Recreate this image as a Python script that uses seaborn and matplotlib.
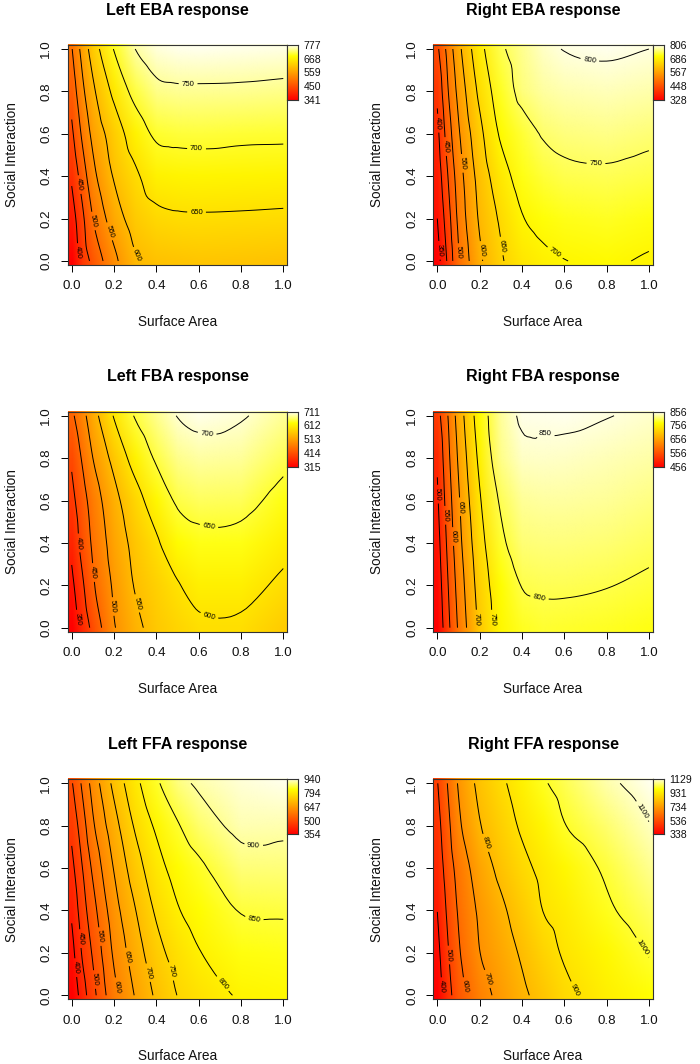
import numpy as np
import matplotlib
matplotlib.use("Agg")
import matplotlib.pyplot as plt
import matplotlib.tri as mtri
from matplotlib.image import NonUniformImage
from matplotlib.colors import LinearSegmentedColormap, Normalize
import seaborn as sns

# ---------------- data ----------------
surface_area = [0.0, 0.05, 0.1, 0.2, 0.3, 0.4, 0.5, 0.6, 0.8, 1.0]
social_interaction = [0.0, 0.2, 0.4, 0.6, 0.8, 1.0]

left_eba = [
    [341, 419, 462, 537, 595, 607, 610, 612, 611, 609],
    [375, 439, 500, 574, 620, 638, 644, 645, 644, 642],
    [408, 473, 534, 604, 642, 673, 677, 678, 677, 675],
    [440, 508, 562, 623, 674, 707, 711, 712, 709, 708],
    [469, 538, 590, 661, 714, 740, 744, 744, 743, 740],
    [497, 566, 622, 702, 750, 770, 776, 777, 775, 773],
]
right_eba = [
    [328, 409, 494, 590, 644, 675, 690, 699, 705, 695],
    [350, 429, 510, 606, 657, 697, 713, 720, 724, 717],
    [369, 450, 524, 618, 678, 718, 733, 741, 744, 738],
    [387, 474, 543, 636, 706, 732, 753, 761, 764, 758],
    [409, 497, 563, 661, 724, 760, 775, 781, 785, 779],
    [440, 516, 585, 683, 742, 767, 790, 801, 806, 800],
]
left_fba = [
    [315, 368, 413, 496, 538, 565, 580, 592, 592, 569],
    [338, 392, 443, 507, 553, 575, 597, 614, 614, 591],
    [362, 416, 457, 520, 563, 594, 629, 639, 638, 614],
    [385, 430, 471, 535, 582, 623, 655, 663, 661, 637],
    [408, 455, 500, 564, 618, 655, 678, 686, 683, 660],
    [440, 483, 529, 603, 653, 679, 701, 709, 703, 682],
]
right_fba = [
    [456, 536, 606, 709, 768, 787, 792, 791, 788, 782],
    [468, 548, 618, 719, 775, 801, 804, 804, 801, 795],
    [480, 561, 632, 731, 791, 815, 817, 817, 814, 807],
    [493, 574, 643, 745, 805, 827, 830, 830, 827, 820],
    [506, 587, 656, 760, 822, 842, 843, 842, 838, 832],
    [530, 600, 670, 773, 828, 854, 855, 856, 851, 845],
]
left_ffa = [
    [354, 425, 483, 585, 653, 708, 751, 770, 805, 812],
    [381, 455, 506, 608, 674, 732, 769, 797, 829, 833],
    [408, 476, 531, 628, 698, 757, 796, 820, 852, 855],
    [435, 499, 559, 653, 726, 781, 818, 841, 882, 882],
    [464, 527, 592, 680, 756, 808, 846, 875, 911, 910],
    [495, 558, 618, 713, 785, 842, 884, 907, 928, 938],
]
right_ffa = [
    [338, 461, 556, 659, 725, 782, 832, 879, 935, 972],
    [370, 491, 587, 698, 755, 811, 865, 908, 956, 1003],
    [401, 519, 609, 715, 782, 843, 901, 927, 989, 1034],
    [433, 548, 633, 747, 823, 877, 920, 953, 1011, 1065],
    [464, 576, 679, 794, 856, 911, 950, 997, 1045, 1097],
    [495, 606, 708, 822, 884, 939, 991, 1025, 1085, 1129],
]

panel_titles = ["Left EBA response", "Right EBA response",
                "Left FBA response", "Right FBA response",
                "Left FFA response", "Right FFA response"]
panel_values = [left_eba, right_eba, left_fba, right_fba, left_ffa, right_ffa]

key_labels = [
    [341, 450, 559, 668, 777],
    [328, 448, 567, 686, 806],
    [315, 414, 513, 612, 711],
    [456, 556, 656, 756, 856],
    [354, 500, 647, 794, 940],
    [338, 536, 734, 931, 1129],
]
contour_levels = [
    [400, 450, 500, 550, 600, 650, 700, 750],
    [350, 400, 450, 500, 550, 600, 650, 700, 750, 800],
    [350, 400, 450, 500, 550, 600, 650, 700],
    [500, 550, 600, 650, 700, 750, 800, 850],
    [400, 450, 500, 550, 600, 650, 700, 750, 800, 850, 900],
    [400, 500, 600, 700, 800, 900, 1000, 1100],
]
axis_ticks = [0.0, 0.2, 0.4, 0.6, 0.8, 1.0]
axis_tick_labels = ["0.0", "0.2", "0.4", "0.6", "0.8", "1.0"]

# where the contour labels sit (layout, as in the reference)
label_spots = [
    [(0.035, 0.04), (0.035, 0.36), (0.11, 0.19), (0.18, 0.14), (0.32, 0.03),
     (0.59, 0.225), (0.59, 0.53), (0.55, 0.835)],
    [(0.005, 0.05), (0.003, 0.65), (0.04, 0.54), (0.11, 0.04), (0.11, 0.46),
     (0.21, 0.05), (0.30, 0.07), (0.55, 0.03), (0.75, 0.46), (0.72, 0.944)],
    [(0.024, 0.04), (0.035, 0.40), (0.10, 0.26), (0.197, 0.10), (0.29, 0.11),
     (0.65, 0.055), (0.65, 0.485), (0.64, 0.915)],
    [(0.003, 0.63), (0.032, 0.53), (0.071, 0.43), (0.103, 0.57), (0.182, 0.04),
     (0.26, 0.04), (0.48, 0.13), (0.51, 0.91)],
    [(0.016, 0.13), (0.037, 0.267), (0.105, 0.074), (0.12, 0.275), (0.21, 0.04),
     (0.26, 0.18), (0.354, 0.105), (0.457, 0.11), (0.69, 0.035), (0.86, 0.34),
     (0.86, 0.70)],
    [(0.016, 0.04), (0.055, 0.19), (0.12, 0.04), (0.224, 0.074), (0.232, 0.72),
     (0.655, 0.027), (0.96, 0.22), (0.953, 0.86)],
]

# ---------------- style ----------------
sns.set_theme(style="white")
plt.rcParams["font.family"] = ["Liberation Sans", "DejaVu Sans"]

heat = LinearSegmentedColormap.from_list(
    "r_heat", [(0.0, (1, 0, 0)), (0.8, (1, 1, 0)), (1.0, (1, 1, 0.93))], N=512)

W, H = 700, 1064
fig = plt.figure(figsize=(W / 100, H / 100), dpi=100)

col_left = [67.7, 433.3]
row_top = [45.0, 411.7, 779.3]
pw, ph = 219.6, 220.0
lo, hi = -0.019, 1.019

for idx in range(6):
    r, c = divmod(idx, 2)
    x0, y0 = col_left[c], row_top[r]
    ax = fig.add_axes([x0 / W, 1 - (y0 + ph) / H, pw / W, ph / H])
    Z = np.array(panel_values[idx], dtype=float)
    xs = np.array(surface_area)
    ys = np.array(social_interaction)
    vmin, vmax = key_labels[idx][0], key_labels[idx][-1]
    norm = Normalize(vmin, vmax)

    im = NonUniformImage(ax, interpolation="bilinear", cmap=heat, norm=norm,
                         extent=(lo, hi, lo, hi))
    im.set_data(xs, ys, Z)
    ax.add_image(im)

    # smooth contour lines
    XX, YY = np.meshgrid(xs, ys)
    tri = mtri.Triangulation(XX.ravel(), YY.ravel())
    interp = mtri.CubicTriInterpolator(tri, Z.ravel(), kind="geom")
    refiner = mtri.UniformTriRefiner(tri)
    tri_f, z_f = refiner.refine_field(Z.ravel(), triinterpolator=interp, subdiv=3)
    cs = ax.tricontour(tri_f, z_f, levels=contour_levels[idx], colors="black",
                       linewidths=0.7)

    ax.set_xlim(lo, hi)
    ax.set_ylim(lo, hi)
    ax.clabel(cs, inline=True, fontsize=5.6, fmt="%d", inline_spacing=3,
              manual=label_spots[idx])

    ax.set_xticks(axis_ticks)
    ax.set_xticklabels(axis_tick_labels)
    ax.set_yticks(axis_ticks)
    ax.set_yticklabels(axis_tick_labels, rotation=90, va="center", ha="right")
    ax.tick_params(axis="both", direction="out", length=5, width=0.7,
                   color="black", labelsize=9.6, pad=6, labelcolor="#111111",
                   bottom=True, left=True)
    for sp in ax.spines.values():
        sp.set_visible(True)
        sp.set_color("#333333")
        sp.set_linewidth(0.8)

    ax.set_xlabel("Surface Area", fontsize=9.8, color="#111111")
    ax.xaxis.set_label_coords(0.5, -57 / ph)
    ax.xaxis.label.set_va("center")
    ax.set_ylabel("Social Interaction", fontsize=9.8, color="#111111")
    ax.yaxis.set_label_coords(-56 / pw, 0.5)
    ax.yaxis.label.set_va("center")

    ax.text(0.5, 1 + 35 / ph, panel_titles[idx], transform=ax.transAxes,
            ha="center", va="center", fontsize=11.5, fontweight="bold",
            color="black")

    # colour key
    cax = fig.add_axes([(x0 + pw) / W, 1 - (y0 + 55) / H, 11 / W, 55 / H])
    grad = np.linspace(vmin, vmax, 256).reshape(-1, 1)
    cax.imshow(grad, aspect="auto", cmap=heat, norm=norm, origin="lower",
               extent=(0, 1, vmin, vmax))
    cax.set_xticks([])
    cax.yaxis.tick_right()
    cax.set_yticks(key_labels[idx])
    cax.set_yticklabels([str(v) for v in key_labels[idx]])
    cax.tick_params(axis="y", length=0, pad=4, labelsize=7.6, labelcolor="#111111",
                    right=False)
    cax.set_ylim(vmin, vmax)
    for sp in cax.spines.values():
        sp.set_visible(True)
        sp.set_color("#333333")
        sp.set_linewidth(0.8)

fig.savefig("out.png", dpi=100, facecolor="white")
